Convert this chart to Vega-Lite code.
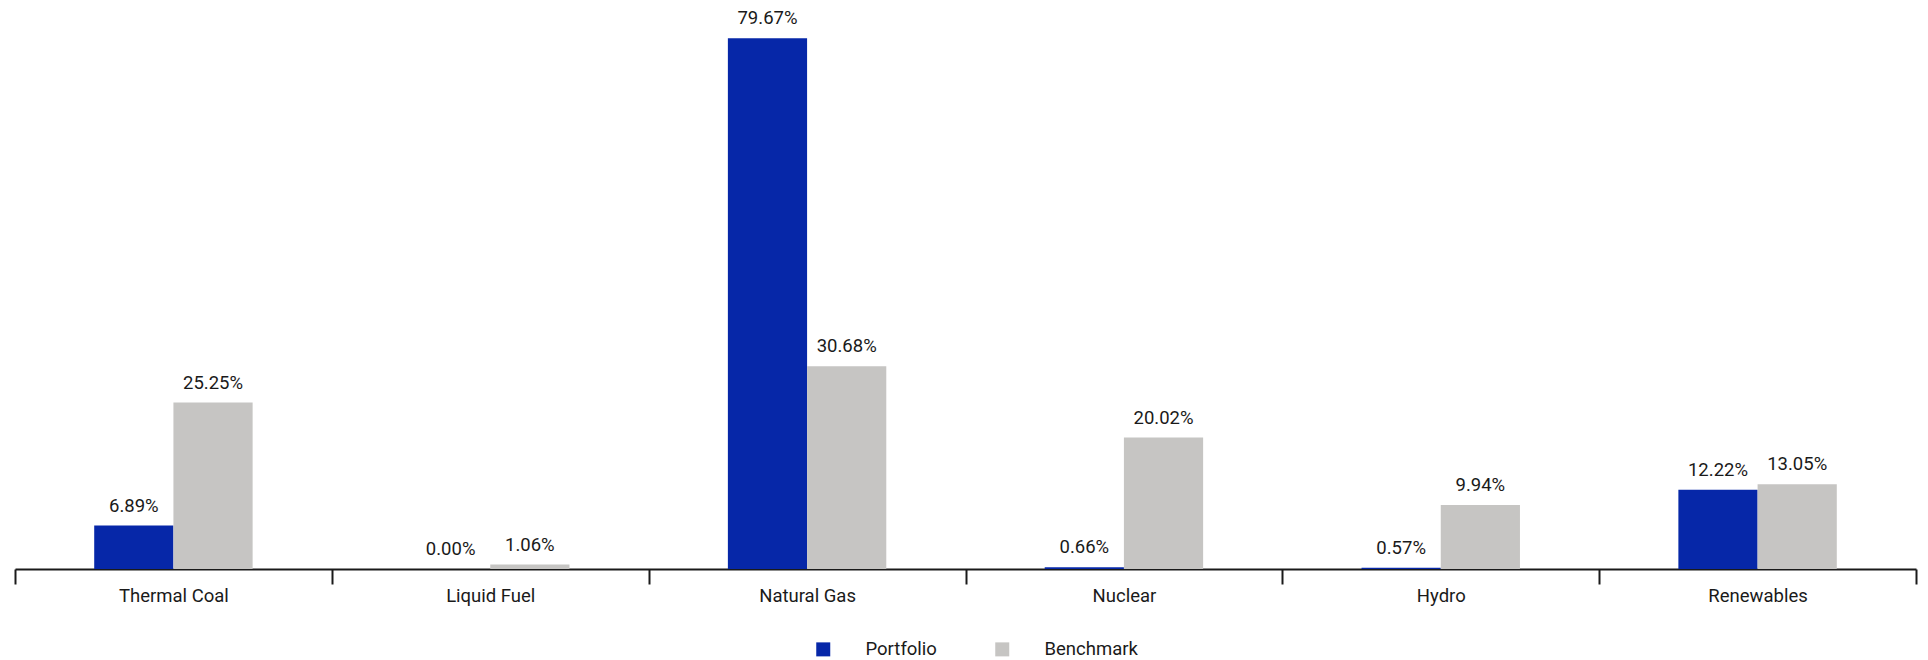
{
  "$schema": "https://vega.github.io/schema/vega-lite/v6.json",
  "width": 1901,
  "height": 533,
  "autosize": "none",
  "padding": {"left": 15, "top": 36, "right": 12, "bottom": 91},
  "background": "white",
  "config": {"view": {"stroke": null}, "font": "Roboto"},
  "data": {
    "values": [
      {"sector": "Thermal Coal", "series": "Portfolio", "value": 0.0689},
      {"sector": "Thermal Coal", "series": "Benchmark", "value": 0.2525},
      {"sector": "Liquid Fuel", "series": "Portfolio", "value": 0.0},
      {"sector": "Liquid Fuel", "series": "Benchmark", "value": 0.0106},
      {"sector": "Natural Gas", "series": "Portfolio", "value": 0.7967},
      {"sector": "Natural Gas", "series": "Benchmark", "value": 0.3068},
      {"sector": "Nuclear", "series": "Portfolio", "value": 0.0066},
      {"sector": "Nuclear", "series": "Benchmark", "value": 0.2002},
      {"sector": "Hydro", "series": "Portfolio", "value": 0.0057},
      {"sector": "Hydro", "series": "Benchmark", "value": 0.0994},
      {"sector": "Renewables", "series": "Portfolio", "value": 0.1222},
      {"sector": "Renewables", "series": "Benchmark", "value": 0.1305}
    ]
  },
  "encoding": {
    "x": {
      "field": "sector",
      "type": "nominal",
      "sort": ["Thermal Coal", "Liquid Fuel", "Natural Gas", "Nuclear", "Hydro", "Renewables"],
      "scale": {"paddingInner": 0, "paddingOuter": 0},
      "axis": {
        "title": null,
        "labelAngle": 0,
        "tickBand": "extent",
        "tickSize": 15,
        "tickWidth": 2,
        "tickColor": "#1a1a1a",
        "domainColor": "#1a1a1a",
        "domainWidth": 2,
        "labelFontSize": 18.5,
        "labelColor": "#1a1a1a",
        "labelPadding": 2,
        "grid": false,
        "zindex": 0
      }
    },
    "xOffset": {
      "field": "series",
      "type": "nominal",
      "sort": ["Portfolio", "Benchmark"],
      "scale": {"paddingInner": 0, "paddingOuter": 1}
    },
    "y": {
      "field": "value",
      "type": "quantitative",
      "scale": {"domain": [0.004, 0.8], "clamp": true, "zero": false, "nice": false},
      "axis": null
    }
  },
  "layer": [
    {
      "mark": {"type": "bar"},
      "encoding": {
        "color": {
          "field": "series",
          "type": "nominal",
          "sort": ["Portfolio", "Benchmark"],
          "scale": {"domain": ["Portfolio", "Benchmark"], "range": ["#0627A8", "#C6C5C3"]},
          "legend": {
            "orient": "none",
            "legendX": 799,
            "legendY": 604,
            "direction": "horizontal",
            "title": null,
            "symbolType": "square",
            "symbolSize": 196,
            "symbolStrokeWidth": 0,
            "labelFontSize": 18.5,
            "labelColor": "#1a1a1a",
            "labelOffset": 33,
            "columnPadding": 56
          }
        }
      }
    },
    {
      "mark": {"type": "text", "dy": -14, "baseline": "alphabetic", "fontSize": 18.5, "color": "#1a1a1a"},
      "encoding": {"text": {"field": "value", "type": "quantitative", "format": ".2%"}}
    }
  ]
}
